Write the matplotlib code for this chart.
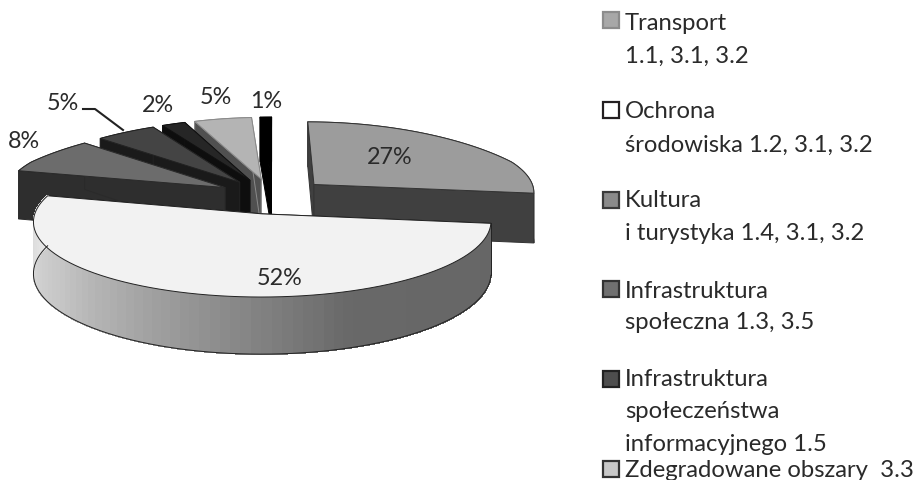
import numpy as np
import matplotlib
matplotlib.use("Agg")
import matplotlib.pyplot as plt
from matplotlib.colors import LinearSegmentedColormap
from matplotlib.patches import Polygon, Rectangle

plt.rcParams['font.family'] = ['Lato', 'DejaVu Sans']

# slices clockwise from 12 o'clock
values = [27, 52, 8, 5, 2, 5, 1]
top_colors = ['#9c9c9c', '#f2f2f2', '#6c6c6c', '#444444', '#262626', '#b4b4b4', '#000000']
face_colors = ['#404040', '#808080', '#2e2e2e', '#1a1a1a', '#0e0e0e', '#505050', '#000000']
edge_colors = ['#333333', '#222222', '#2a2a2a', '#222222', '#111111', '#8a8a8a', '#000000']
# back slices first, the big front slice last
draw_order = [6, 5, 4, 3, 2, 0, 1]

label_pos = [(390, 158), (280, 279), (24, 142), (63, 104), (158, 105), (216, 98), (266, 101)]

legend_labels = ['Transport\n1.1, 3.1, 3.2', 'Ochrona\nśrodowiska 1.2, 3.1, 3.2',
                 'Kultura\ni turystyka 1.4, 3.1, 3.2', 'Infrastruktura\nspołeczna 1.3, 3.5',
                 'Infrastruktura\nspołeczeństwa\ninformacyjnego 1.5', 'Zdegradowane obszary  3.3']
legend_face = ['#a8a8a8', '#ffffff', '#8a8a8a', '#707070', '#4e4e4e', '#c8c8c8']
legend_edge = ['#8c8c8c', '#231f20', '#3a3a3a', '#333333', '#222222', '#333333']
legend_box_y = [21, 111, 201, 290, 380, 470]
legend_line_y = [[23, 56], [112, 145], [201, 234], [292, 323], [380, 412, 445], [471]]

CX, CY = 273, 197
RX, RY = 222, 71
PERSP = 0.1
PERSP_BACK_X = 0.12
EXPLODE = 0.25
DEPTH = 50
TEXT = '#2a2a2a'


def project(X, Y, z=0.0):
    d = 1 + PERSP * Y
    # far side narrows a bit more in x
    dx = d + PERSP_BACK_X * np.maximum(0, Y - 0.5)
    return CX + RX * X / dx, CY - RY * Y / d + DEPTH * z / d


def slice_points(a0, a1, z=0.0, n=80):
    mid = (a0 + a1) / 2
    ox, oy = EXPLODE * np.sin(mid), EXPLODE * np.cos(mid)
    t = np.linspace(a0, a1, n)
    ax_, ay_ = project(ox, oy, z)
    rx_, ry_ = project(ox + np.sin(t), oy + np.cos(t), z)
    return (float(ax_), float(ay_)), np.column_stack([rx_, ry_])


fig = plt.figure(figsize=(9.17, 4.81), dpi=100)
ax = fig.add_axes([0, 0, 1, 1])
ax.set_xlim(0, 917)
ax.set_ylim(481, 0)
ax.axis('off')

wall_cmap = LinearSegmentedColormap.from_list(
    'wall', [(0, '#666666'), (0.33, '#686868'), (0.75, '#c6c6c6'), (1, '#e6e6e6')])

edges = np.cumsum([0] + values) / sum(values) * 2 * np.pi

for i in draw_order:
    a0, a1 = edges[i], edges[i + 1]
    apex, arc = slice_points(a0, a1)
    apex_b, arc_b = slice_points(a0, a1, 1.0)
    lw = 0.7

    # outer wall, only the big slice has a gradient
    if i != 1:
        ax.add_patch(Polygon(np.vstack([arc, arc_b[::-1]]), closed=True, fc=face_colors[i],
                             ec=edge_colors[i], lw=lw))

    # cut faces
    for k in (0, -1):
        ax.add_patch(Polygon([apex, arc[k], arc_b[k], apex_b], closed=True, fc=face_colors[i],
                             ec=edge_colors[i], lw=lw, joinstyle='round'))

    if i == 1:
        for j in range(len(arc) - 1):
            c = wall_cmap(j / (len(arc) - 2))
            ax.add_patch(Polygon([arc[j], arc[j + 1], arc_b[j + 1], arc_b[j]], closed=True,
                                 fc=c, ec=c, lw=0.6, antialiased=False))
        ax.plot(arc_b[:, 0], arc_b[:, 1], color='#222222', lw=0.7)
        ax.plot(arc_b[[0, 0], 0], [arc[0, 1], arc_b[0, 1]], color='#222222', lw=0.7)

    # top face
    ax.add_patch(Polygon(np.vstack([[apex], arc]), closed=True, fc=top_colors[i],
                         ec=edge_colors[i], lw=lw, joinstyle='round'))

# slice labels
for v, (x, y) in zip(values, label_pos):
    ax.text(x, y, '%d%%' % v, ha='center', va='center', fontsize=16.8, color=TEXT)

# leader line of the dark 5% slice
ax.plot([83, 95, 123], [110, 110, 131], color='#222222', lw=1.5)

# legend
for lab, fc, ec, by, ys in zip(legend_labels, legend_face, legend_edge, legend_box_y, legend_line_y):
    ax.add_patch(Rectangle((603, by - 8), 16, 16, fc=fc, ec=ec, lw=1.6))
    for line, y in zip(lab.split('\n'), ys):
        ax.text(625, y, line, ha='left', va='center', fontsize=17.2, color=TEXT)

fig.savefig('out.png', dpi=100)
